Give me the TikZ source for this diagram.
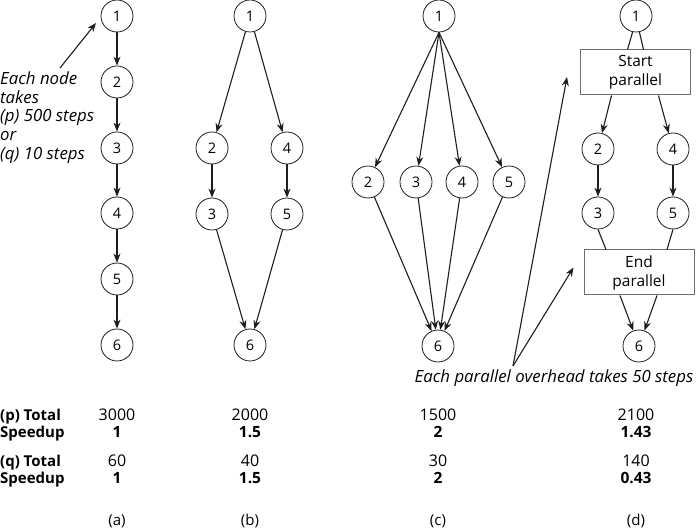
\documentclass[tikz,border=0pt]{standalone}
\usepackage{fontspec}
\setmainfont{Open Sans}
\usetikzlibrary{arrows.meta,calc}
\definecolor{boxgray}{RGB}{110,110,110}
\definecolor{inkline}{RGB}{30,30,30}

\begin{document}
\begin{tikzpicture}[
        x=1pt, y=-1pt,
        >={Stealth[length=9pt,width=7pt]},
        task/.style={circle,draw=inkline,line width=0.8pt,minimum size=32pt,inner sep=0pt,font=\fontsize{14.5}{16}\selectfont},
        phase/.style={rectangle,draw=boxgray,line width=1pt,minimum width=110pt,minimum height=45pt,align=center,font=\fontsize{15.5}{19}\selectfont},
        link/.style={->,draw=inkline,line width=1.1pt},
        bare/.style={draw=inkline,line width=1.1pt},
        note/.style={font=\itshape\fontsize{16.8}{18.75}\selectfont,align=left,inner sep=0pt},
        rowhead/.style={font=\bfseries\fontsize{15}{16}\selectfont,anchor=base west,inner sep=0pt},
        val/.style={font=\fontsize{16}{16}\selectfont,anchor=base,inner sep=0pt},
        gain/.style={font=\bfseries\fontsize{15.5}{16}\selectfont,anchor=base,inner sep=0pt},
        tag/.style={font=\fontsize{15}{16}\selectfont,inner sep=0pt}
      ]
        \useasboundingbox (0,0) rectangle (697,529);

        % (a) chain
        \foreach \i/\y in {1/16,2/82,3/148,4/213,5/279,6/345}
          \node[task] (a\i) at (117,\y) {\i};
        \foreach \i/\j in {1/2,2/3,3/4,4/5,5/6}
          \draw[link] (a\i) -- (a\j);

        % (b) two branches
        \node[task] (b1) at (250,16)  {1};
        \node[task] (b2) at (212,148) {2};
        \node[task] (b4) at (287,148) {4};
        \node[task] (b3) at (212,214) {3};
        \node[task] (b5) at (287,214) {5};
        \node[task] (b6) at (250,345) {6};
        \draw[link] (b1) -- (b2);
        \draw[link] (b1) -- (b4);
        \draw[link] (b2) -- (b3);
        \draw[link] (b4) -- (b5);
        \draw[link] (b3) -- (b6);
        \draw[link] (b5) -- (b6);

        % (c) four branches
        \node[task] (c1) at (439,16) {1};
        \foreach \i/\x in {2/368,3/416,4/462,5/509}
          \node[task] (c\i) at (\x,182) {\i};
        \node[task] (c6) at (438,346) {6};
        \foreach \i in {2,...,5} {
          \draw[link] (c1.south) -- (c\i);
          \draw[link] (c\i) -- (c6);
        }

        % (d) with overhead
        \node[task]  (d1)     at (636,16)    {1};
        \node[phase] (dstart) at (635.5,72.5) {Start\\parallel};
        \node[task]  (d2)     at (598,149)   {2};
        \node[task]  (d4)     at (673,149)   {4};
        \node[task]  (d3)     at (598,213)   {3};
        \node[task]  (d5)     at (673,213)   {5};
        \node[phase] (dend)   at (639,272.5) {End\\parallel};
        \node[task]  (d6)     at (639,346)   {6};
        \draw[bare] (d1.258) -- ($(dstart.north)+(-8,0)$);
        \draw[bare] (d1.282) -- ($(dstart.north)+(8,0)$);
        \draw[link] ($(dstart.south)+(-24,0)$) -- (d2);
        \draw[link] ($(dstart.south)+(23,0)$) -- (d4);
        \draw[link] (d2) -- (d3);
        \draw[link] (d4) -- (d5);
        \draw[bare] (d3.south) -- ($(dend.north)+(-33,0)$);
        \draw[bare] (d5.south) -- ($(dend.north)+(28,0)$);
        \draw[link] ($(dend.south)+(-19,0)$) -- (d6);
        \draw[link] ($(dend.south)+(18,0)$) -- (d6);

        % annotations
        \node[note,anchor=west] (nodecost) at (0,117.5)
          {Each node\\takes\\(p) 500 steps\\or\\(q) 10 steps};
        \coordinate (noteTail) at (60,68);
        \coordinate (noteTip) at ($(a1)+(-21,7)$);
        \draw[link] (noteTail) -- (noteTip);

        \node[note] (ovhd) at (554,378) {Each parallel overhead takes 50 steps};
        \coordinate (ovApex) at (513,366);
        \draw[link] (ovApex) -- ($(dstart.west)+(-13,4.5)$);
        \draw[link] (ovApex) -- ($(dend.west)+(-10,-5)$);

        % totals
        \node[rowhead] (ptot) at (0,421) {(p) Total};
        \node[rowhead] (psp)  at (0,438) {Speedup};
        \node[rowhead] (qtot) at (0,467) {(q) Total};
        \node[rowhead] (qsp)  at (0,484) {Speedup};
        \foreach \col/\x/\pt/\ps/\qt/\qs in {a/117/3000/1/60/1, b/250/2000/1.5/40/1.5,
                                          c/438/1500/2/30/2, d/636/2100/1.43/140/0.43} {
          \node[val]  (pt\col) at (\x,421) {\pt};
          \node[gain] (ps\col) at (\x,438) {\ps};
          \node[val]  (qt\col) at (\x,467) {\qt};
          \node[gain] (qs\col) at (\x,484) {\qs};
          \node[tag]  (lbl\col) at (\x,521) {(\col)};
        }
      \end{tikzpicture}
\end{document}
